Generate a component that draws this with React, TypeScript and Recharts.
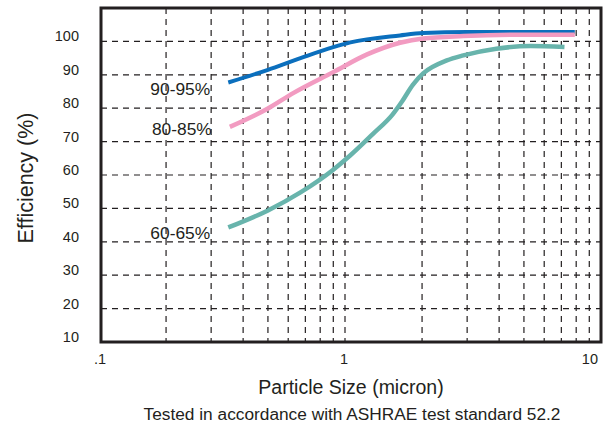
import React from 'react';
import { LineChart, Line, XAxis, YAxis, CartesianGrid, LabelList, Label } from 'recharts';

// left edge of the plot sits a little right of 0.1 in the original
const X_MIN = 0.1114;
const X_MAX = 10;
const Y_MIN = 10;
const Y_MAX = 110;

const xTicks = [X_MIN, 0.2, 0.3, 0.4, 0.5, 0.6, 0.7, 0.8, 0.9, 1, 2, 3, 4, 5, 6, 7, 8, 9, 10];
const xTickLabels: Record<string, string> = { [String(X_MIN)]: '.1', '1': '1', '10': '10' };
const yTicks = [10, 20, 30, 40, 50, 60, 70, 80, 90, 100, 110];
const yTickLabels = [10, 20, 30, 40, 50, 60, 70, 80, 90, 100];

const size90 = [0.35, 0.5, 0.67, 0.9, 1.05, 1.64, 2.02, 3, 5, 7.9];
const eff90 = [87.7, 91.5, 95, 98.3, 99.7, 101.8, 102.5, 102.8, 102.8, 102.8];

const size80 = [0.355, 0.5, 0.63, 0.9, 1.22, 1.64, 2.02, 2.9, 5, 7.9];
const eff80 = [74.4, 79.9, 84.6, 90.8, 96.1, 99.6, 100.9, 101.6, 102, 102];

const size60 = [0.35, 0.5, 0.67, 0.9, 1.05, 1.29, 1.53, 1.67, 1.84, 2.02, 2.5, 2.9, 3.9, 5.3, 7.2];
const eff60 = [44.3, 49.4, 54.8, 61.6, 65.9, 72.4, 78, 82, 87, 90.4, 94.3, 95.8, 97.8, 98.6, 98.3];

const toRows = (xs: number[], ys: number[]) => xs.map((x, i) => ({ x, y: ys[i] }));

const series = [
  { name: '90-95%', data: toRows(size90, eff90), color: '#0b6fbd', width: 4, dy: 6 },
  { name: '80-85%', data: toRows(size80, eff80), color: '#f29bc1', width: 4.5, dy: 2 },
  { name: '60-65%', data: toRows(size60, eff60), color: '#68b4ac', width: 4.5, dy: 5 },
];

const FONT = '"Liberation Sans", Arial, sans-serif';
const INK = '#231f20';

const W = 609;
const H = 425;
const MARGIN = { top: 8, right: 8, left: 41, bottom: 53 };
const Y_AXIS_W = 60;
const X_AXIS_H = 30;

const YTick = (props: any) => {
  const { x, y, payload } = props;
  if (!yTickLabels.includes(payload.value)) return null;
  return (
    <text x={x} y={y - 5} dy="0.35em" textAnchor="end" fontSize={14.5} fontFamily={FONT} fill={INK}>
      {payload.value}
    </text>
  );
};

const XTick = (props: any) => {
  const { x, y, payload } = props;
  const txt = xTickLabels[String(payload.value)];
  if (!txt) return null;
  const isLast = payload.value === X_MAX;
  return (
    <text
      x={isLast ? x - 3 : x - 1}
      y={y}
      dy="0.35em"
      textAnchor={isLast ? 'end' : 'middle'}
      fontSize={14.5}
      fontFamily={FONT}
      fill={INK}
    >
      {txt}
    </text>
  );
};

const XTitle = (props: any) => {
  const { x, y, width } = props.viewBox;
  const cx = x + width / 2;
  return (
    <g fontFamily={FONT} fill={INK}>
      <text x={cx} y={y + 52} textAnchor="middle" fontSize={19.5}>
        Particle Size (micron)
      </text>
      <text x={cx + 1} y={y + 78} textAnchor="middle" fontSize={17.3}>
        Tested in accordance with ASHRAE test standard 52.2
      </text>
    </g>
  );
};

const YTitle = (props: any) => {
  const { y, height } = props.viewBox;
  const cx = 25;
  const cy = y + height / 2 + 3;
  return (
    <text
      x={cx}
      y={cy}
      transform={`rotate(-90 ${cx} ${cy})`}
      textAnchor="middle"
      dy="0.35em"
      fontSize={21.5}
      fontFamily={FONT}
      fill={INK}
    >
      Efficiency (%)
    </text>
  );
};

const seriesLabel = (name: string, dy: number) => (props: any) => {
  const { x, y, index } = props;
  if (index !== 0) return null;
  return (
    <text x={x - 18} y={y + dy} dy="0.35em" textAnchor="end" fontSize={17.4} fontFamily={FONT} fill={INK}>
      {name}
    </text>
  );
};

export default function App() {
  const plotX = MARGIN.left + Y_AXIS_W;
  const plotW = W - plotX - MARGIN.right;
  const plotH = H - MARGIN.top - MARGIN.bottom - X_AXIS_H;
  return (
    <div style={{ position: 'absolute', left: 0, top: 0, width: W, height: H }}>
      <LineChart width={W} height={H} margin={MARGIN}>
        <CartesianGrid stroke={INK} strokeWidth={1.2} strokeDasharray="6 5" />
        <XAxis
          dataKey="x"
          type="number"
          scale="log"
          domain={[X_MIN, X_MAX]}
          allowDataOverflow
          ticks={xTicks}
          interval={0}
          tick={<XTick />}
          tickLine={false}
          axisLine={false}
          tickSize={0}
          tickMargin={17}
          height={X_AXIS_H}
        >
          <Label content={<XTitle />} />
        </XAxis>
        <YAxis
          type="number"
          domain={[Y_MIN, Y_MAX]}
          ticks={yTicks}
          interval={0}
          tick={<YTick />}
          tickLine={false}
          axisLine={false}
          tickSize={0}
          tickMargin={22}
          width={Y_AXIS_W}
        >
          <Label content={<YTitle />} />
        </YAxis>
        {series.map((s) => (
          <Line
            key={s.name}
            data={s.data}
            dataKey="y"
            type="monotone"
            stroke={s.color}
            strokeWidth={s.width}
            dot={false}
            activeDot={false}
            isAnimationActive={false}
          >
            <LabelList dataKey="y" content={seriesLabel(s.name, s.dy)} />
          </Line>
        ))}
      </LineChart>
      {/* frame drawn on top so no clip can cut it */}
      <svg width={W} height={H} style={{ position: 'absolute', left: 0, top: 0, pointerEvents: 'none' }}>
        <rect x={plotX} y={MARGIN.top} width={plotW} height={plotH} fill="none" stroke={INK} strokeWidth={3} />
      </svg>
    </div>
  );
}
